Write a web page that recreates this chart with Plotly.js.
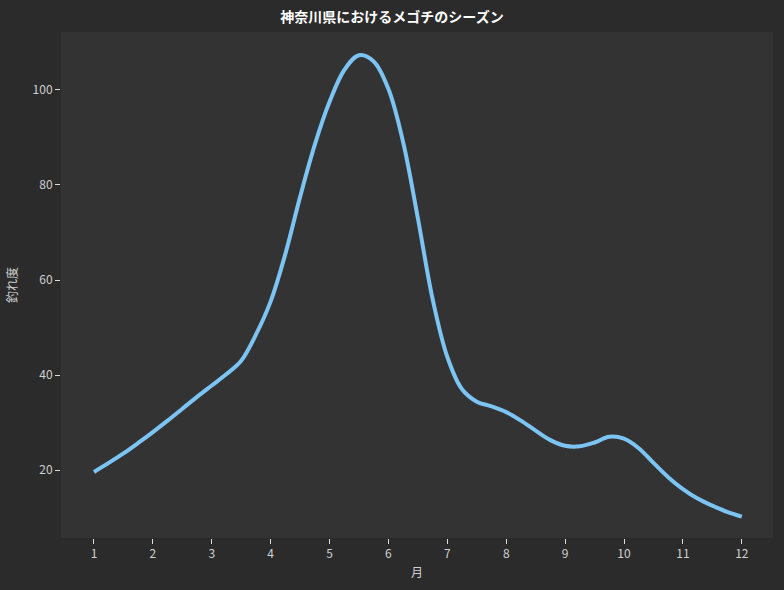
<!DOCTYPE html>
<html><head><meta charset="utf-8">
<script src="https://cdn.plot.ly/plotly-3.0.1.min.js"></script>
<style>body{margin:0;background:#2b2b2b}#c{width:784px;height:590px}</style>
</head><body><div id="c"></div>
<script>
const months = [1, 1.25, 1.5, 1.75, 2, 2.25, 2.5, 2.75, 3, 3.25, 3.5, 3.75, 4, 4.25, 4.5, 4.75, 5, 5.25, 5.5, 5.75, 6, 6.25, 6.5, 6.75, 7, 7.25, 7.5, 7.75, 8, 8.25, 8.5, 8.75, 9, 9.25, 9.5, 9.75, 10, 10.25, 10.5, 10.75, 11, 11.25, 11.5, 11.75, 12];
const catchIndex = [19.6, 21.5, 23.5, 25.7, 28, 30.4, 32.9, 35.4, 37.8, 40.2, 43.0, 48.5, 55.5, 65.5, 77.5, 88.5, 97.5, 104.2, 107.3, 106.0, 100.2, 89, 73, 56, 43.8, 37, 34.4, 33.4, 32.2, 30.4, 28.3, 26.3, 25.1, 25.0, 25.8, 27.0, 26.6, 24.6, 21.5, 18.5, 16.0, 14.0, 12.5, 11.2, 10.2];
const tickVals = [1,2,3,4,5,6,7,8,9,10,11,12];
const font = "Noto Sans CJK JP, sans-serif";
Plotly.newPlot('c', [{
  x: months, y: catchIndex, type: 'scatter', mode: 'lines',
  line: {color: '#7cc4f4', width: 4, shape: 'spline', smoothing: 1}
}], {
  width: 784, height: 590,
  paper_bgcolor: '#2b2b2b', plot_bgcolor: '#333333',
  margin: {l: 61, r: 11, t: 32, b: 52},
  font: {family: font, color: '#d0d0d0', size: 12},
  title: {text: '神奈川県におけるメゴチのシーズン', x: 0.5, xanchor: 'center', y: 0.971, yanchor: 'middle',
          font: {family: font, size: 14, color: '#ffffff', weight: 'bold'}},
  xaxis: {range: [0.44, 12.53], tickvals: tickVals, ticks: 'outside', ticklen: 5, tickcolor: '#dddddd',
          showgrid: false, zeroline: false, showline: false,
          title: {text: '月', font: {size: 12, color: '#d0d0d0'}, standoff: 8}},
  yaxis: {range: [5.7, 112.2], tickvals: [20,40,60,80,100], ticks: 'outside', ticklen: 5, tickcolor: '#dddddd',
          showgrid: false, zeroline: false, showline: false,
          title: {text: '釣れ度', font: {size: 12, color: '#d0d0d0'}, standoff: 12}},
  showlegend: false
}, {displayModeBar: false});
</script></body></html>
